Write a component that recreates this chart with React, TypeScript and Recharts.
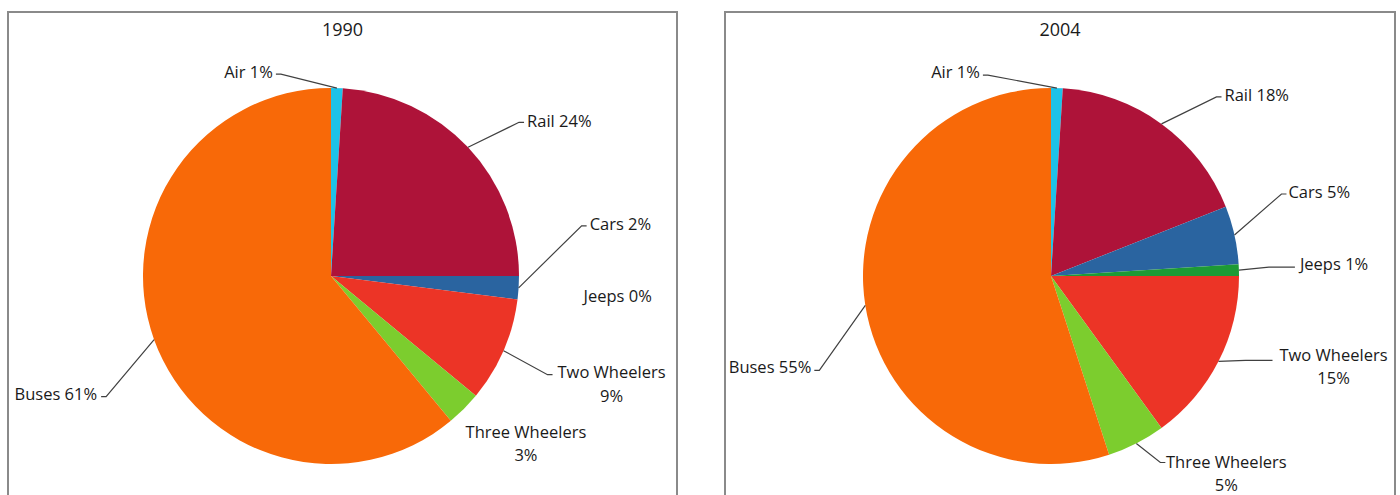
import { PieChart, Pie, Cell } from 'recharts'

const categories = ['Air', 'Rail', 'Cars', 'Jeeps', 'Two Wheelers', 'Three Wheelers', 'Buses']
const share1990 = [1, 24, 2, 0, 9, 3, 61]
const share2004 = [1, 18, 5, 1, 15, 5, 55]

const colors = ['#1ec2e8', '#ae1339', '#2a64a0', '#1d9a35', '#ec3426', '#7ccd2e', '#f86908']

const RAD = Math.PI / 180
const FONT = '"Open Sans", sans-serif'
const FS = 16.5

// label placement relative to the slice's outer mid point
// dx/dy = text position, lead = bend + end of the leader line
type Lay = { dx: number; dy: number; anchor: 'start' | 'end' | 'middle'; wrap?: boolean; lead?: number[] }

const layout1990: Lay[] = [
  { dx: -64, dy: -16, anchor: 'end', lead: [-56, -14, -61, -14] },
  { dx: 59, dy: -26, anchor: 'start', lead: [51, -25, 56, -25] },
  { dx: 71, dy: -64, anchor: 'start', lead: [63, -62, 68, -62] },
  { dx: 66, dy: -3, anchor: 'start' },
  { dx: 108, dy: 22, anchor: 'middle', wrap: true, lead: [44, 24, 49, 24] },
  { dx: 62, dy: 23, anchor: 'middle', wrap: true },
  { dx: -57, dy: 55, anchor: 'end', lead: [-48, 57, -53, 57] },
]

const layout2004: Lay[] = [
  { dx: -77, dy: -16, anchor: 'end', lead: [-69, -13, -74, -13] },
  { dx: 63, dy: -29, anchor: 'start', lead: [55, -27, 60, -27] },
  { dx: 54, dy: -43, anchor: 'start', lead: [47, -41, 52, -41] },
  { dx: 61, dy: -6, anchor: 'start', lead: [30, -3, 56, -3] },
  { dx: 115, dy: -6, anchor: 'middle', wrap: true, lead: [27, -1, 54, -1] },
  { dx: 90, dy: 19, anchor: 'middle', wrap: true, lead: [24, 19, 29, 19] },
  { dx: -54, dy: 62, anchor: 'end', lead: [-46, 65, -51, 65] },
]

function makeLabel(layout: Lay[]) {
  return (props: any) => {
    const { cx, cy, midAngle, outerRadius, index, name, value } = props
    const lay = layout[index]
    const ax = cx + outerRadius * Math.cos(-midAngle * RAD)
    const ay = cy + outerRadius * Math.sin(-midAngle * RAD)
    const tx = ax + lay.dx
    const ty = ay + lay.dy
    return (
      <g key={'lbl' + index}>
        {lay.lead && (
          <polyline
            points={`${ax},${ay} ${ax + lay.lead[0]},${ay + lay.lead[1]} ${ax + lay.lead[2]},${ay + lay.lead[3]}`}
            fill="none"
            stroke="#404040"
            strokeWidth={1.2}
          />
        )}
        {lay.wrap ? (
          <text x={tx} y={ty} textAnchor="middle" fontFamily={FONT} fontSize={FS} fill="#1a1a1a">
            <tspan x={tx} dy="0.35em">{name}</tspan>
            <tspan x={tx} dy="1.4em">{value}%</tspan>
          </text>
        ) : (
          <text x={tx} y={ty} dy="0.35em" textAnchor={lay.anchor} fontFamily={FONT} fontSize={FS} fill="#1a1a1a">
            {name} {value}%
          </text>
        )}
      </g>
    )
  }
}

function PieBox({ title, values, layout, left, width, cx }: any) {
  const data = categories.map((c, i) => ({ name: c, value: values[i] }))
  return (
    <div
      style={{
        position: 'absolute', left, top: 11, width, height: 520,
        border: '2px solid #8a8a8a', boxSizing: 'border-box', background: '#fff',
      }}
    >
      <div style={{ position: 'absolute', left: 0, top: 4, width: width - 4, textAlign: 'center', fontFamily: FONT, fontSize: 18, color: '#1a1a1a' }}>
        {title}
      </div>
      <PieChart width={width - 4} height={516} margin={{ top: 0, right: 0, bottom: 0, left: 0 }}>
        <Pie
          data={data}
          dataKey="value"
          nameKey="name"
          cx={cx}
          cy={263}
          outerRadius={188}
          startAngle={90}
          endAngle={-270}
          stroke="none"
          labelLine={false}
          label={makeLabel(layout)}
          isAnimationActive={false}
        >
          {data.map((d, i) => <Cell key={d.name} fill={colors[i]} />)}
        </Pie>
      </PieChart>
    </div>
  )
}

export default function App() {
  return (
    <div style={{ position: 'absolute', left: 0, top: 0, width: 1400, height: 495, overflow: 'hidden', background: '#fff' }}>
      <PieBox title="1990" values={share1990} layout={layout1990} left={7} width={671} cx={322} />
      <PieBox title="2004" values={share2004} layout={layout2004} left={724} width={672} cx={325} />
    </div>
  )
}
